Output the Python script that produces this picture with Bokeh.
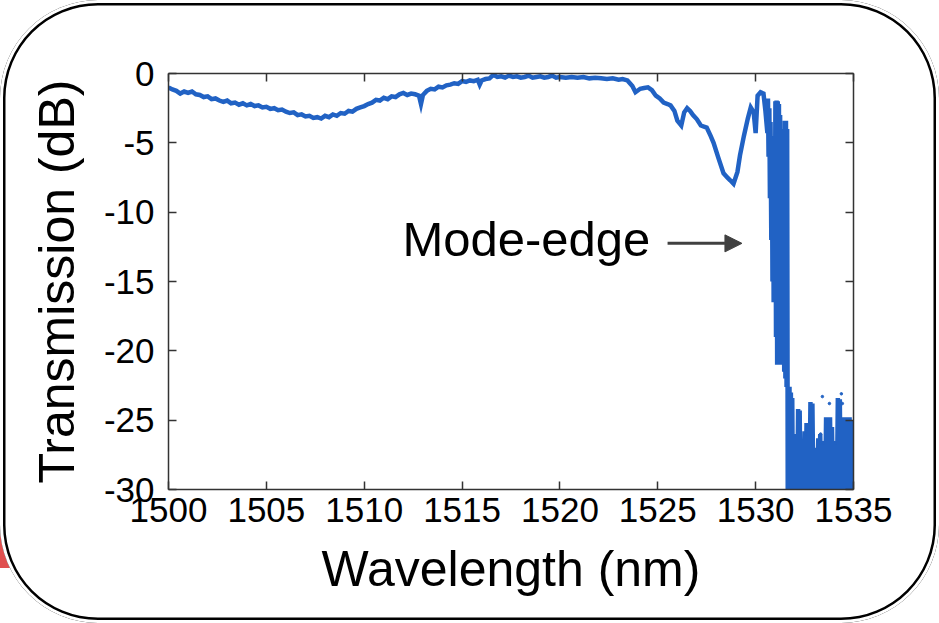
from bokeh.plotting import figure
from bokeh.layouts import column
from bokeh.models import (LinearAxis, Range1d, Label, Arrow,
                          NormalHead, ColumnDataSource, FixedTicker, CustomJSTickFormatter)
from bokeh.embed import file_html
from bokeh.resources import INLINE

# ---------------- data ----------------
x_ticks = [1500, 1505, 1510, 1515, 1520, 1525, 1530, 1535]
y_ticks = [-30, -25, -20, -15, -10, -5, 0]

# smooth part of the transmission spectrum
wl_main = [1500.0, 1500.2, 1500.4, 1500.6, 1500.8, 1501.0, 1501.2, 1501.4, 1501.6, 1501.8,
           1502.0, 1502.2, 1502.4, 1502.6, 1502.8, 1503.0, 1503.2, 1503.4, 1503.6, 1503.8,
           1504.0, 1504.2, 1504.4, 1504.6, 1504.8, 1505.0, 1505.2, 1505.4, 1505.6, 1505.8,
           1506.0, 1506.2, 1506.4, 1506.6, 1506.8, 1507.0, 1507.2, 1507.4, 1507.6, 1507.8,
           1508.0, 1508.2, 1508.4, 1508.6, 1508.8, 1509.0, 1509.2, 1509.4, 1509.6, 1509.8,
           1510.0, 1510.2, 1510.4, 1510.6, 1510.8, 1511.0, 1511.2, 1511.4, 1511.6, 1511.8,
           1512.0, 1512.2, 1512.4, 1512.6, 1512.8, 1512.9, 1513.0, 1513.2, 1513.4, 1513.6,
           1513.8, 1514.0, 1514.2, 1514.4, 1514.6, 1514.8, 1515.0, 1515.2, 1515.4, 1515.6,
           1515.8, 1515.9, 1516.0, 1516.2, 1516.4, 1516.6, 1516.8, 1517.0, 1517.2, 1517.4,
           1517.6, 1517.8, 1518.0, 1518.2, 1518.4, 1518.6, 1518.8, 1519.0, 1519.2, 1519.4,
           1519.6, 1519.8, 1520.0, 1520.3, 1520.6, 1520.9, 1521.2, 1521.5, 1521.8, 1522.1,
           1522.4, 1522.7, 1523.0, 1523.2,
           1523.45, 1523.7, 1523.86, 1524.1, 1524.3, 1524.5, 1524.7, 1524.9, 1525.1, 1525.3,
           1525.5, 1525.65, 1525.85, 1526.0, 1526.2, 1526.35, 1526.5, 1526.65, 1526.8, 1527.0,
           1527.2, 1527.5, 1527.7, 1527.85, 1528.1, 1528.36, 1528.55, 1528.7, 1528.87, 1529.07,
           1529.2, 1529.4, 1529.6, 1529.75, 1529.9, 1530.0, 1530.1, 1530.25, 1530.4, 1530.5]
db_main = [-1.00, -1.15, -1.25, -1.45, -1.30, -1.40, -1.30, -1.50, -1.55, -1.70,
           -1.65, -1.85, -1.80, -1.95, -2.05, -1.95, -2.15, -2.10, -2.25, -2.15,
           -2.30, -2.20, -2.35, -2.30, -2.45, -2.40, -2.55, -2.50, -2.65, -2.60,
           -2.75, -2.85, -2.80, -3.00, -2.95, -3.10, -3.05, -3.20, -3.15, -3.25,
           -3.05, -3.15, -2.95, -3.05, -2.85, -2.90, -2.70, -2.75, -2.55, -2.45,
           -2.35, -2.20, -2.10, -1.90, -1.95, -1.75, -1.85, -1.65, -1.70, -1.50,
           -1.40, -1.55, -1.45, -1.50, -1.60, -2.20, -1.55, -1.25, -1.10, -1.15,
           -0.95, -1.00, -0.85, -0.80, -0.70, -0.75, -0.55, -0.60, -0.50, -0.55,
           -0.45, -0.80, -0.50, -0.40, -0.35, -0.10, -0.25, -0.20, -0.30, -0.15,
           -0.25, -0.20, -0.30, -0.25, -0.15, -0.30, -0.25, -0.20, -0.30, -0.25,
           -0.15, -0.30, -0.25, -0.30, -0.25, -0.30, -0.25, -0.35, -0.30, -0.35,
           -0.40, -0.35, -0.45, -0.40,
           -0.5, -0.9, -1.35, -1.1, -1.05, -1.0, -1.2, -1.6, -1.8, -2.1,
           -2.2, -2.3, -2.7, -3.4, -3.75, -2.8, -2.5, -2.7, -3.0, -3.3,
           -3.75, -3.9, -4.5, -5.0, -6.1, -7.2, -7.5, -7.7, -7.95, -7.1,
           -5.9, -4.5, -3.25, -2.45, -2.8, -4.3, -1.6, -1.35, -1.45, -2.7]

# rapidly oscillating mode-edge region
wl_edge = [1530.60, 1530.63, 1530.66, 1530.70, 1530.73, 1530.76, 1530.80, 1530.83, 1530.86, 1530.89,
           1530.92, 1530.95, 1530.98, 1531.01, 1531.04, 1531.07, 1531.10, 1531.13, 1531.16, 1531.19,
           1531.22, 1531.25, 1531.28, 1531.31, 1531.34, 1531.37, 1531.40, 1531.43, 1531.46, 1531.49,
           1531.52, 1531.55, 1531.58, 1531.61, 1531.64, 1531.67]
db_edge = [-4.3, -1.8, -6.0, -2.5, -9.0, -3.5, -12.0, -4.5, -15.0, -5.0,
           -16.5, -5.5, -14.0, -2.0, -19.0, -1.95, -21.0, -2.0, -20.5, -2.2,
           -21.0, -3.0, -21.0, -5.0, -21.0, -10.5, -21.0, -4.0, -21.5, -3.4,
           -22.0, -3.4, -22.6, -4.0, -30.5, -22.6]

# noise floor beyond the band edge
wl_floor = [1531.70, 1531.73, 1531.76, 1531.80, 1531.83, 1531.87, 1531.90, 1531.94, 1531.97, 1532.01,
            1532.05, 1532.09, 1532.13, 1532.17, 1532.21, 1532.25, 1532.29, 1532.33, 1532.37, 1532.41,
            1532.45, 1532.50, 1532.55, 1532.60, 1532.65, 1532.70, 1532.75, 1532.80, 1532.85, 1532.90,
            1532.95, 1533.00, 1533.05, 1533.10, 1533.15, 1533.20, 1533.25, 1533.30, 1533.35, 1533.40,
            1533.45, 1533.50, 1533.55, 1533.60, 1533.65, 1533.70, 1533.75, 1533.80, 1533.85, 1533.90,
            1533.95, 1534.00, 1534.05, 1534.10, 1534.15, 1534.20, 1534.25, 1534.30, 1534.35, 1534.40,
            1534.45, 1534.50, 1534.55, 1534.60, 1534.65, 1534.70, 1534.75, 1534.80, 1534.85, 1534.90,
            1534.95, 1535.00]
db_floor = [-30.5, -22.6, -30.5, -23.0, -30.5, -23.4, -30.5, -26.5, -30.5, -27.5,
            -30.5, -26.0, -30.5, -24.2, -30.5, -24.3, -30.5, -27.0, -30.5, -26.5,
            -30.5, -25.8, -30.5, -25.2, -30.5, -25.3, -30.5, -23.7, -30.5, -23.8,
            -30.5, -27.5, -30.5, -27.0, -30.5, -26.3, -30.5, -26.0, -30.5, -27.0,
            -30.5, -26.5, -30.5, -24.8, -30.5, -24.9, -30.5, -24.8, -30.5, -25.5,
            -30.5, -27.5, -30.5, -26.5, -30.5, -23.4, -30.5, -23.5, -30.5, -27.0,
            -30.5, -24.8, -30.5, -24.8, -30.5, -25.0, -30.5, -24.8, -30.5, -25.0,
            -30.5, -25.0]

# isolated sample points in the noise floor
wl_dots = [1533.41, 1533.77, 1534.38, 1534.43, 1532.55, 1533.32, 1533.47, 1533.32, 1534.08]
db_dots = [-23.3, -23.8, -23.1, -23.8, -26.0, -26.0, -26.7, -26.7, -26.7]

wavelength = wl_main + wl_edge + wl_floor
transmission = db_main + db_edge + db_floor

# ---------------- figure ----------------
FONT = "Liberation Sans"
BLUE = "#2162c4"

p = figure(width=939, height=623, x_range=Range1d(1500, 1535), y_range=Range1d(-30, 0),
           output_backend="svg", toolbar_location=None,
           min_border_left=168, min_border_right=86, min_border_top=73, min_border_bottom=134,
           styles={"background": "white", "border-radius": "98px",
                   "box-shadow": "inset 0 0 0 3px white, inset 0 0 0 5.5px black"})
p.grid.visible = False
p.outline_line_color = None
p.background_fill_color = "white"
p.border_fill_color = None

src = ColumnDataSource(dict(x=wavelength, y=transmission))
p.line("x", "y", source=src, line_color=BLUE, line_width=4.5, line_join="miter")
p.scatter(wl_dots, db_dots, size=2.5, color=BLUE)

fmt = CustomJSTickFormatter(code="return tick.toString();")
blank = CustomJSTickFormatter(code="return '';")

def style_axis(ax):
    ax.axis_line_color = "#333333"
    ax.axis_line_width = 1.5
    ax.major_tick_line_color = "#333333"
    ax.major_tick_line_width = 1.5
    ax.major_tick_in = 8
    ax.major_tick_out = 0
    ax.minor_tick_line_color = None
    ax.major_label_text_font = FONT
    ax.major_label_text_color = "black"
    ax.major_label_text_font_size = "35px"
    ax.axis_label_text_font = FONT
    ax.axis_label_text_font_size = "50px"
    ax.axis_label_text_font_style = "normal"
    ax.axis_label_text_color = "black"

xax = p.xaxis[0]
yax = p.yaxis[0]
xax.ticker = FixedTicker(ticks=x_ticks)
yax.ticker = FixedTicker(ticks=y_ticks)
xax.formatter = fmt
yax.formatter = fmt
xax.axis_label = "Wavelength (nm)"
yax.axis_label = "Transmission (dB)"
style_axis(xax)
style_axis(yax)
xax.major_label_standoff = 8
xax.axis_label_standoff = 16
yax.major_label_standoff = 14
yax.axis_label_standoff = 16

top_ax = LinearAxis(ticker=FixedTicker(ticks=x_ticks), formatter=blank)
right_ax = LinearAxis(ticker=FixedTicker(ticks=y_ticks), formatter=blank)
style_axis(top_ax)
style_axis(right_ax)
top_ax.major_label_standoff = 0
right_ax.major_label_standoff = 0
p.add_layout(top_ax, "above")
p.add_layout(right_ax, "right")

# annotation
p.add_layout(Label(x=1511.95, y=-11.9, text="Mode-edge", text_font=FONT,
                   text_font_size="49px", text_color="black", text_baseline="alphabetic"))
p.add_layout(Arrow(end=NormalHead(size=17, fill_color="#404040", line_color="#404040"),
                   x_start=1525.5, y_start=-12.25, x_end=1529.3, y_end=-12.25,
                   line_color="#404040", line_width=3))

# page: fragment of the neighbouring red panel peeks out at the lower-left corner
page = column(p, styles={"background-color": "white",
                         "background-image": "linear-gradient(#e05050, #e05050)",
                         "background-size": "14px 50px",
                         "background-position": "0px 518px",
                         "background-repeat": "no-repeat"})

open("out.html", "w").write(file_html(page, INLINE))
